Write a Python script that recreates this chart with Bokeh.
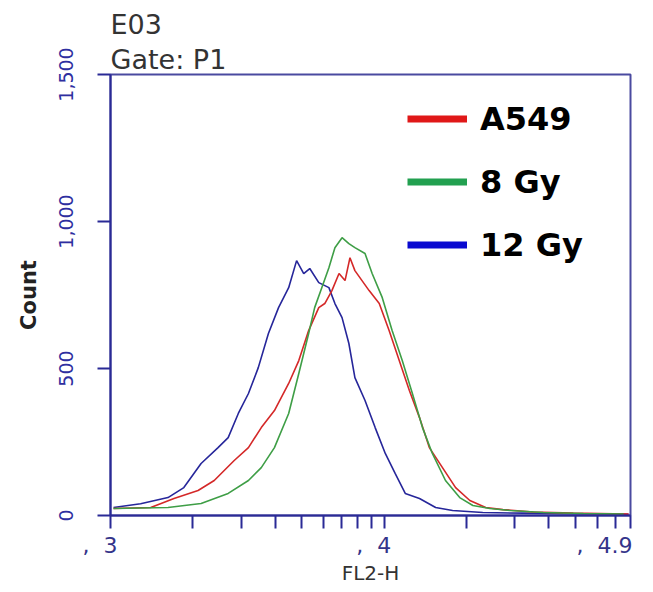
import numpy as np
from bokeh.plotting import figure
from bokeh.models import (Range1d, FixedTicker, Title, Legend, LegendItem,
                          NumeralTickFormatter)
from bokeh.embed import file_html
from bokeh.resources import INLINE

# ---- data (x in log10(FL2-H) decades, y = Count) ----
blue_x = [3.011, 3.110, 3.210, 3.268, 3.331, 3.393, 3.430, 3.467, 3.504, 3.540,
          3.577, 3.614, 3.651, 3.680, 3.706, 3.728, 3.761, 3.798, 3.820, 3.846,
          3.871, 3.893, 3.930, 3.967, 4.004, 4.040, 4.077, 4.129, 4.188, 4.250,
          4.360, 4.507, 4.654, 4.801, 4.893]
blue_y = [27, 40, 61, 95, 177, 231, 265, 347, 415, 503,
          619, 707, 775, 867, 823, 840, 792, 775, 721, 673,
          585, 469, 391, 299, 211, 143, 75, 58, 27, 17,
          10, 8, 6, 5, 4]

red_x = [3.011, 3.147, 3.232, 3.320, 3.379, 3.452, 3.504, 3.551, 3.599, 3.651,
         3.688, 3.724, 3.761, 3.783, 3.809, 3.835, 3.857, 3.875, 3.893, 3.919,
         3.945, 3.982, 4.018, 4.055, 4.092, 4.129, 4.165, 4.213, 4.261, 4.313,
         4.371, 4.434, 4.544, 4.691, 4.838, 4.893]
red_y = [24, 27, 58, 85, 119, 187, 231, 299, 357, 449,
         527, 629, 707, 721, 765, 823, 799, 877, 833, 799,
         765, 721, 629, 527, 425, 333, 231, 163, 95, 51,
         27, 20, 12, 8, 6, 5]

green_x = [3.011, 3.210, 3.331, 3.430, 3.504, 3.551, 3.599, 3.651, 3.688, 3.724,
           3.746, 3.772, 3.798, 3.820, 3.846, 3.871, 3.893, 3.930, 3.956, 3.993,
           4.029, 4.066, 4.103, 4.140, 4.176, 4.224, 4.276, 4.324, 4.386, 4.460,
           4.581, 4.728, 4.875]
green_y = [24, 27, 41, 75, 119, 163, 231, 347, 483, 619,
           707, 775, 843, 911, 945, 925, 911, 891, 823, 741,
           629, 527, 415, 299, 211, 119, 61, 34, 24, 17,
           10, 7, 5]

series_names = ["A549", "8 Gy", "12 Gy"]
x_major_ticks = [3, 4, 4.9]
x_major_labels = [",\u00a0\u00a03\u00a0\u00a0\u00a0",
                  ",\u00a0\u00a04\u00a0\u00a0\u00a0",
                  ",\u00a0\u00a04.9\u00a0\u00a0\u00a0"]
y_ticks = [0, 500, 1000, 1500]

AXIS_BLUE = "#2a2a96"
FONT = "DejaVu Sans"

p = figure(frame_width=520, frame_height=441, output_backend="svg",
           toolbar_location=None, x_range=Range1d(3, 4.9), y_range=Range1d(0, 1500),
           min_border_left=110, min_border_right=23, min_border_top=74,
           min_border_bottom=77, background_fill_color="white",
           border_fill_color="white")
p.grid.visible = False
p.outline_line_color = "#4a4aa0"
p.outline_line_width = 2

# histograms
p.line(blue_x, blue_y, line_color="#26269a", line_width=1.6)
p.line(red_x, red_y, line_color="#d42828", line_width=1.6)
p.line(green_x, green_y, line_color="#3e9e46", line_width=1.6)

# x axis
minor = [np.log10(k * 1000) for k in range(2, 10)] + [np.log10(k * 10000) for k in range(2, 8)]
xa = p.xaxis[0]
xa.ticker = FixedTicker(ticks=x_major_ticks, minor_ticks=minor)
xa.major_label_overrides = {t: l for t, l in zip(x_major_ticks, x_major_labels)}
xa.axis_line_color = AXIS_BLUE
xa.axis_line_width = 2
xa.major_tick_line_color = AXIS_BLUE
xa.minor_tick_line_color = AXIS_BLUE
xa.major_tick_line_width = 2
xa.minor_tick_line_width = 2
xa.major_tick_in = 0
xa.minor_tick_in = 0
xa.major_tick_out = 13
xa.minor_tick_out = 13
xa.major_label_standoff = 4
xa.major_label_text_font = FONT
xa.major_label_text_font_size = "22px"
xa.major_label_text_color = "#34348a"
xa.axis_label = "FL2-H"
xa.axis_label_text_font = FONT
xa.axis_label_text_font_style = "normal"
xa.axis_label_text_font_size = "20px"
xa.axis_label_text_color = "#333333"
xa.axis_label_standoff = 0

# y axis
ya = p.yaxis[0]
ya.ticker = FixedTicker(ticks=y_ticks, minor_ticks=[])
ya.formatter = NumeralTickFormatter(format="0,0")
ya.major_label_orientation = "vertical"
ya.axis_line_color = AXIS_BLUE
ya.axis_line_width = 2
ya.major_tick_line_color = AXIS_BLUE
ya.major_tick_line_width = 2
ya.major_tick_in = 0
ya.major_tick_out = 13
ya.minor_tick_line_color = None
ya.major_label_standoff = 25
ya.major_label_text_font = FONT
ya.major_label_text_font_size = "19px"
ya.major_label_text_color = "#2e2ea0"
ya.axis_label = "Count"
ya.axis_label_text_font = FONT
ya.axis_label_text_font_style = "bold"
ya.axis_label_text_font_size = "21px"
ya.axis_label_text_color = "#222222"
ya.axis_label_standoff = 15

# header texts (first added sits closest to the frame)
p.add_layout(Title(text="Gate: P1", align="left", text_font=FONT, text_font_size="27px",
                   text_font_style="normal", text_color="#333333", standoff=0), "above")
p.add_layout(Title(text="E03", align="left", text_font=FONT, text_font_size="27px",
                   text_font_style="normal", text_color="#333333", standoff=4), "above")

# legend
leg_colors = ["#e01818", "#22a050", "#0a0ad0"]
items = []
for name, c in zip(series_names, leg_colors):
    r = p.line(x=[np.nan, np.nan], y=[np.nan, np.nan], line_color=c, line_width=7)
    items.append(LegendItem(label=name, renderers=[r]))
legend = Legend(items=items, location=(297, 243), glyph_width=60, glyph_height=55,
                label_height=55, spacing=8, padding=0, margin=0, label_standoff=13,
                label_text_font=FONT, label_text_font_style="bold",
                label_text_font_size="32px", label_text_color="black",
                border_line_alpha=0, background_fill_alpha=0)
p.add_layout(legend, "center")

open("out.html", "w").write(file_html(p, INLINE))
